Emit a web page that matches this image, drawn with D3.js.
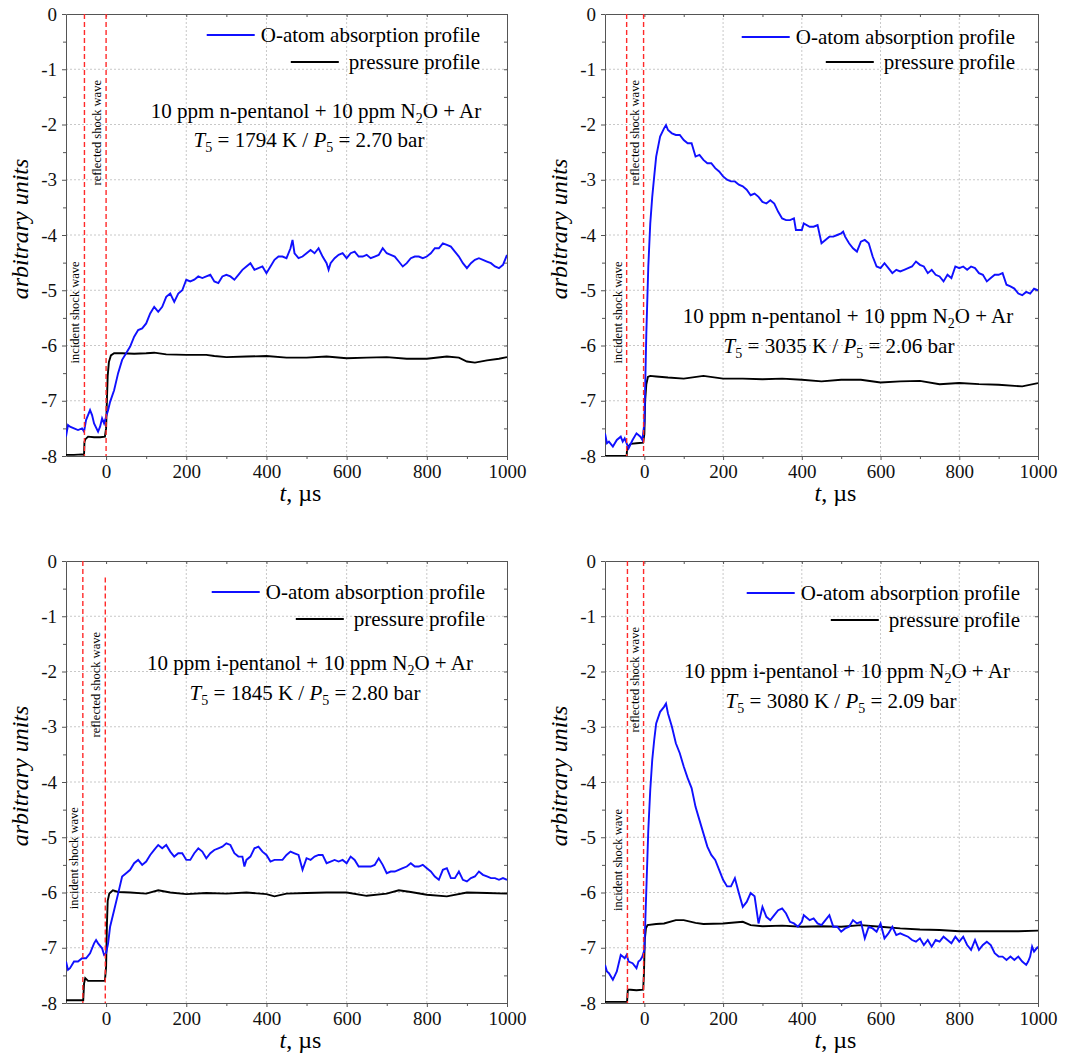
<!DOCTYPE html>
<html>
<head>
<meta charset="utf-8">
<script src="https://cdn.jsdelivr.net/npm/d3@7"></script>
<style>
  body { margin: 0; background: #fff; }
  .axis path, .axis line { stroke: #555; }
  .grid line { stroke: #c8c8c8; stroke-dasharray: 2,2; }
</style>
</head>
<body>
<div id="chart"></div>
<script>
// ---- data (t in µs, arbitrary units) ----
var xTicks = [0, 200, 400, 600, 800, 1000];
var xMinor = [-100, 100, 300, 500, 700, 900];
var yTicks = [0, -1, -2, -3, -4, -5, -6, -7, -8];
var yMinor = [-0.5, -1.5, -2.5, -3.5, -4.5, -5.5, -6.5, -7.5];

var legendLabels = ['O-atom absorption profile', 'pressure profile'];
var mixtures = ['10 ppm n-pentanol + 10 ppm N', '10 ppm n-pentanol + 10 ppm N',
                '10 ppm i-pentanol + 10 ppm N', '10 ppm i-pentanol + 10 ppm N'];
var temps = ['1794', '3035', '1845', '3080'];
var pressures = ['2.70', '2.06', '2.80', '2.09'];

// shock arrival times [incident, reflected]
var shocks1 = [-54, 0];
var shocks2 = [-45, -2];
var shocks3 = [-58, -2];
var shocks4 = [-43, -2];

var oatom1 = [[-100,-7.65],[-95,-7.44],[-90,-7.47],[-80,-7.50],[-70,-7.53],[-60,-7.50],[-55,-7.56],[-50,-7.35],[-40,-7.17],[-35,-7.26],[-30,-7.41],[-20,-7.56],[-15,-7.47],[-10,-7.32],[-5,-7.41],[0,-7.29],[5,-7.17],[10,-7.02],[20,-6.81],[30,-6.50],[40,-6.26],[50,-6.14],[60,-6.02],[70,-5.84],[80,-5.72],[90,-5.69],[100,-5.60],[110,-5.42],[120,-5.30],[130,-5.39],[140,-5.30],[150,-5.12],[160,-5.06],[170,-5.21],[180,-5.06],[190,-5.00],[200,-4.81],[210,-4.84],[220,-4.81],[230,-4.75],[240,-4.78],[250,-4.75],[260,-4.72],[270,-4.84],[280,-4.87],[290,-4.75],[300,-4.72],[310,-4.75],[320,-4.81],[330,-4.72],[340,-4.63],[350,-4.57],[360,-4.51],[370,-4.63],[380,-4.60],[390,-4.57],[400,-4.69],[410,-4.57],[420,-4.45],[430,-4.39],[440,-4.39],[450,-4.42],[460,-4.24],[465,-4.09],[470,-4.33],[480,-4.42],[490,-4.39],[500,-4.33],[510,-4.27],[520,-4.33],[530,-4.24],[540,-4.39],[550,-4.51],[555,-4.63],[560,-4.51],[570,-4.42],[580,-4.36],[590,-4.33],[600,-4.42],[610,-4.33],[620,-4.30],[630,-4.39],[640,-4.39],[650,-4.36],[660,-4.42],[670,-4.39],[680,-4.36],[690,-4.24],[700,-4.33],[710,-4.36],[720,-4.39],[730,-4.48],[740,-4.57],[750,-4.51],[760,-4.42],[770,-4.39],[780,-4.39],[790,-4.42],[800,-4.39],[810,-4.33],[820,-4.24],[830,-4.24],[840,-4.15],[850,-4.18],[860,-4.21],[870,-4.30],[880,-4.39],[890,-4.51],[900,-4.60],[910,-4.51],[920,-4.45],[930,-4.42],[940,-4.45],[950,-4.48],[960,-4.51],[970,-4.57],[980,-4.60],[990,-4.54],[1000,-4.36]];

var pres1 = [[-100,-7.98],[-80,-7.98],[-60,-7.97],[-55,-7.98],[-54,-7.75],[-52,-7.70],[-45,-7.65],[-30,-7.66],[-15,-7.66],[-3,-7.65],[0,-7.50],[2,-7.00],[4,-6.55],[7,-6.30],[12,-6.18],[20,-6.14],[40,-6.14],[70,-6.15],[100,-6.14],[120,-6.13],[150,-6.16],[200,-6.17],[250,-6.17],[270,-6.19],[300,-6.21],[350,-6.20],[400,-6.19],[450,-6.22],[500,-6.22],[550,-6.20],[600,-6.23],[650,-6.22],[700,-6.21],[750,-6.24],[800,-6.24],[850,-6.20],[880,-6.22],[900,-6.29],[920,-6.31],[950,-6.27],[980,-6.24],[1000,-6.21]];

var oatom2 = [[-100,-7.59],[-95,-7.77],[-90,-7.74],[-80,-7.83],[-70,-7.71],[-60,-7.65],[-55,-7.74],[-50,-7.68],[-45,-7.77],[-40,-7.86],[-30,-7.71],[-20,-7.59],[-10,-7.65],[-5,-7.71],[0,-7.41],[5,-5.78],[10,-4.57],[15,-3.79],[20,-3.31],[25,-2.94],[30,-2.58],[40,-2.22],[50,-2.07],[55,-2.01],[60,-2.10],[70,-2.16],[80,-2.19],[90,-2.19],[100,-2.28],[110,-2.34],[120,-2.34],[130,-2.58],[140,-2.55],[150,-2.64],[160,-2.70],[170,-2.70],[180,-2.79],[190,-2.85],[200,-2.94],[210,-3.00],[220,-3.03],[230,-3.03],[240,-3.09],[250,-3.12],[260,-3.18],[270,-3.28],[280,-3.25],[290,-3.31],[300,-3.40],[310,-3.43],[320,-3.37],[330,-3.43],[340,-3.58],[350,-3.70],[360,-3.73],[370,-3.73],[380,-3.70],[385,-3.91],[400,-3.91],[405,-3.79],[420,-3.85],[430,-3.85],[440,-3.82],[450,-4.15],[460,-4.09],[470,-4.03],[480,-4.03],[490,-4.00],[500,-3.97],[505,-3.94],[510,-4.03],[520,-4.15],[530,-4.24],[540,-4.30],[550,-4.12],[560,-4.09],[570,-4.15],[580,-4.39],[590,-4.57],[600,-4.60],[610,-4.51],[620,-4.60],[630,-4.69],[640,-4.63],[650,-4.66],[660,-4.63],[670,-4.60],[680,-4.57],[690,-4.48],[700,-4.54],[710,-4.57],[720,-4.69],[730,-4.63],[740,-4.72],[750,-4.75],[760,-4.84],[770,-4.72],[780,-4.78],[790,-4.57],[800,-4.60],[810,-4.57],[820,-4.63],[830,-4.57],[840,-4.60],[850,-4.69],[860,-4.72],[870,-4.84],[880,-4.78],[890,-4.72],[900,-4.72],[910,-4.69],[920,-4.90],[930,-4.93],[940,-4.97],[950,-5.06],[960,-5.09],[970,-5.03],[980,-5.06],[990,-4.97],[1000,-5.00]];

var pres2 = [[-100,-8.00],[-45,-8.00],[-44,-7.88],[-40,-7.82],[-35,-7.78],[-20,-7.77],[-3,-7.76],[0,-7.60],[2,-7.00],[5,-6.70],[9,-6.57],[15,-6.55],[30,-6.56],[60,-6.58],[100,-6.60],[150,-6.55],[200,-6.60],[250,-6.60],[300,-6.61],[350,-6.60],[400,-6.62],[450,-6.65],[500,-6.62],[550,-6.62],[600,-6.67],[650,-6.65],[700,-6.64],[750,-6.70],[800,-6.68],[850,-6.70],[900,-6.71],[960,-6.74],[1000,-6.68]];

var oatom3 = [[-100,-7.25],[-95,-7.40],[-90,-7.37],[-80,-7.25],[-70,-7.25],[-60,-7.19],[-50,-7.19],[-40,-7.10],[-30,-6.92],[-25,-6.86],[-20,-6.92],[-10,-7.01],[-5,-7.13],[0,-7.10],[5,-6.92],[10,-6.62],[20,-6.32],[30,-6.02],[40,-5.71],[50,-5.65],[60,-5.59],[70,-5.47],[80,-5.41],[90,-5.50],[100,-5.44],[110,-5.32],[120,-5.23],[130,-5.14],[140,-5.20],[150,-5.14],[160,-5.26],[170,-5.35],[180,-5.29],[190,-5.29],[200,-5.41],[210,-5.41],[220,-5.29],[230,-5.20],[240,-5.26],[250,-5.38],[260,-5.29],[270,-5.23],[280,-5.20],[290,-5.17],[300,-5.11],[310,-5.14],[320,-5.29],[330,-5.35],[340,-5.35],[345,-5.53],[350,-5.41],[360,-5.35],[370,-5.20],[380,-5.17],[390,-5.26],[400,-5.32],[410,-5.44],[420,-5.41],[430,-5.41],[440,-5.41],[450,-5.32],[460,-5.26],[470,-5.29],[480,-5.32],[490,-5.59],[500,-5.38],[510,-5.41],[520,-5.35],[530,-5.32],[540,-5.32],[550,-5.47],[560,-5.44],[570,-5.41],[580,-5.44],[590,-5.41],[600,-5.47],[610,-5.35],[620,-5.41],[630,-5.53],[640,-5.53],[650,-5.53],[660,-5.53],[670,-5.50],[680,-5.38],[690,-5.50],[700,-5.65],[710,-5.62],[720,-5.62],[730,-5.59],[740,-5.56],[750,-5.53],[760,-5.47],[770,-5.53],[780,-5.53],[790,-5.50],[800,-5.56],[810,-5.62],[820,-5.71],[830,-5.77],[840,-5.59],[850,-5.56],[860,-5.74],[870,-5.74],[880,-5.62],[890,-5.77],[900,-5.80],[910,-5.74],[920,-5.71],[930,-5.62],[940,-5.68],[950,-5.71],[960,-5.74],[970,-5.74],[980,-5.77],[990,-5.74],[1000,-5.77]];

var pres3 = [[-100,-7.95],[-57,-7.95],[-55,-7.65],[-52,-7.55],[-45,-7.60],[-20,-7.60],[-3,-7.60],[0,-7.35],[2,-6.60],[4,-6.15],[8,-6.02],[17,-5.96],[30,-5.99],[60,-6.00],[100,-6.02],[130,-5.96],[160,-6.00],[200,-6.03],[250,-6.01],[300,-6.02],[350,-6.00],[400,-6.03],[420,-6.07],[450,-6.02],[500,-6.01],[550,-6.00],[600,-6.00],[650,-6.06],[700,-6.02],[730,-5.96],[760,-5.99],[800,-6.04],[850,-6.07],[900,-6.00],[950,-6.01],[1000,-6.02]];

var oatom4 = [[-100,-7.31],[-95,-7.43],[-90,-7.46],[-80,-7.58],[-70,-7.43],[-60,-7.13],[-55,-7.16],[-50,-7.19],[-45,-7.13],[-40,-7.25],[-30,-7.28],[-20,-7.37],[-15,-7.25],[-10,-7.22],[-5,-7.16],[0,-7.04],[5,-5.95],[10,-4.87],[15,-4.14],[20,-3.60],[25,-3.24],[30,-2.94],[40,-2.73],[50,-2.64],[55,-2.58],[60,-2.76],[70,-3.00],[80,-3.30],[90,-3.48],[100,-3.72],[110,-3.93],[120,-4.11],[130,-4.45],[140,-4.69],[150,-4.93],[160,-5.17],[170,-5.32],[180,-5.41],[190,-5.59],[200,-5.77],[210,-5.89],[220,-5.89],[230,-5.74],[240,-6.01],[250,-6.26],[260,-6.17],[270,-6.01],[280,-6.07],[290,-6.56],[300,-6.26],[310,-6.44],[320,-6.50],[330,-6.41],[340,-6.32],[350,-6.29],[360,-6.38],[370,-6.53],[380,-6.56],[390,-6.62],[400,-6.53],[405,-6.41],[420,-6.50],[430,-6.47],[440,-6.56],[450,-6.59],[460,-6.50],[470,-6.41],[480,-6.62],[490,-6.62],[500,-6.71],[510,-6.65],[520,-6.62],[530,-6.50],[540,-6.56],[550,-6.53],[560,-6.83],[570,-6.62],[580,-6.65],[590,-6.71],[600,-6.56],[610,-6.83],[620,-6.74],[630,-6.62],[640,-6.77],[650,-6.74],[660,-6.77],[670,-6.80],[680,-6.86],[690,-6.89],[700,-6.83],[710,-6.95],[720,-6.86],[730,-6.98],[740,-6.86],[750,-6.89],[760,-6.80],[770,-6.86],[780,-6.92],[790,-6.80],[800,-6.89],[810,-6.80],[820,-6.95],[830,-7.04],[840,-6.86],[850,-7.04],[860,-6.95],[870,-6.89],[880,-6.95],[890,-7.10],[900,-7.16],[910,-7.16],[920,-7.22],[930,-7.16],[940,-7.22],[950,-7.16],[960,-7.25],[970,-7.31],[975,-7.25],[980,-7.16],[985,-6.98],[990,-7.07],[1000,-6.98]];

var pres4 = [[-100,-7.98],[-44,-7.98],[-42,-7.76],[-35,-7.76],[-20,-7.77],[-3,-7.76],[-1,-7.46],[1,-6.86],[4,-6.65],[8,-6.59],[30,-6.57],[50,-6.56],[80,-6.50],[100,-6.50],[130,-6.55],[150,-6.57],[200,-6.56],[250,-6.53],[270,-6.59],[300,-6.61],[350,-6.60],[400,-6.62],[450,-6.61],[500,-6.62],[550,-6.59],[600,-6.62],[650,-6.65],[700,-6.67],[750,-6.68],[800,-6.70],[850,-6.70],[900,-6.70],[950,-6.70],[1000,-6.69]];

// ---- layout ----
var serif = "'Liberation Serif', 'Times New Roman', serif";

var panels = [
  { left: 66, right: 507, top: 14, bottom: 456, oatom: oatom1, pres: pres1, shocks: shocks1,
    legendX: 480, legendY: [35, 62], noteX: [316, 309], noteY: [118, 147], labelY: [-5.4, -2.15], reflFrom: 0 },
  { left: 605, right: 1038, top: 14, bottom: 456, oatom: oatom2, pres: pres2, shocks: shocks2,
    legendX: 1015, legendY: [37, 62], noteX: [848, 839], noteY: [323, 353], labelY: [-5.4, -2.15], reflFrom: 0 },
  { left: 66, right: 507, top: 561, bottom: 1003, oatom: oatom3, pres: pres3, shocks: shocks3,
    legendX: 485, legendY: [592, 619], noteX: [310, 305], noteY: [670, 700], labelY: [-5.38, -2.24], reflFrom: -0.3 },
  { left: 605, right: 1038, top: 561, bottom: 1003, oatom: oatom4, pres: pres4, shocks: shocks4,
    legendX: 1020, legendY: [593, 620], noteX: [847, 841], noteY: [678, 708], labelY: [-5.41, -2.15], reflFrom: 0 }
];

var blue = '#1010ff';

var svg = d3.select('#chart')
  .append('svg')
  .attr('width', 1074)
  .attr('height', 1059)
  .style('font-family', serif);

panels.forEach(drawPanel);

function drawPanel(p, i) {
  var x = d3.scaleLinear().domain([-100, 1000]).range([p.left, p.right]);
  var y = d3.scaleLinear().domain([-8, 0]).range([p.bottom, p.top]);
  var g = svg.append('g');

  g.append('clipPath').attr('id', 'clip' + i)
    .append('rect')
    .attr('x', p.left).attr('y', p.top)
    .attr('width', p.right - p.left).attr('height', p.bottom - p.top);

  // gridlines
  var grid = g.append('g').attr('class', 'grid');
  grid.selectAll('.gx')
    .data(xTicks.filter(function(d) { return d > 0 && d < 1000; }))
    .enter().append('line')
    .attr('x1', function(d) { return x(d); }).attr('x2', function(d) { return x(d); })
    .attr('y1', p.top).attr('y2', p.bottom);
  grid.selectAll('.gy')
    .data(yTicks.filter(function(d) { return d < 0 && d > -8; }))
    .enter().append('line')
    .attr('y1', function(d) { return y(d); }).attr('y2', function(d) { return y(d); })
    .attr('x1', p.left).attr('x2', p.right);

  // axes
  var fmt = function(d) { return String(d); };
  g.append('g').attr('class', 'axis')
    .attr('transform', 'translate(' + p.left + ',0)')
    .call(d3.axisLeft(y).tickValues(yTicks).tickSize(4).tickSizeOuter(0).tickPadding(5).tickFormat(fmt))
    .selectAll('text')
    .style('font-family', serif).style('font-size', '19px').style('fill', '#111');
  g.append('g').attr('class', 'axis')
    .attr('transform', 'translate(' + p.left + ',0)')
    .call(d3.axisLeft(y).tickValues(yMinor).tickSize(3).tickFormat(''))
    .select('.domain').remove();
  g.append('g').attr('class', 'axis')
    .attr('transform', 'translate(0,' + p.bottom + ')')
    .call(d3.axisBottom(x).tickValues(xTicks).tickSize(4).tickSizeOuter(0).tickPadding(5).tickFormat(fmt))
    .selectAll('text')
    .style('font-family', serif).style('font-size', '19px').style('fill', '#111');
  g.append('g').attr('class', 'axis')
    .attr('transform', 'translate(0,' + p.bottom + ')')
    .call(d3.axisBottom(x).tickValues(xMinor.slice(1)).tickSize(3).tickFormat(''))
    .select('.domain').remove();
  g.append('g').attr('class', 'axis')
    .attr('transform', 'translate(' + p.right + ',0)')
    .call(d3.axisRight(y).tickValues(yTicks.concat(yMinor)).tickSize(-3).tickSizeOuter(0).tickFormat(''));
  g.append('g').attr('class', 'axis')
    .attr('transform', 'translate(0,' + p.top + ')')
    .call(d3.axisTop(x).tickValues(xTicks.concat(xMinor.slice(1))).tickSize(-3).tickSizeOuter(0).tickFormat(''));

  // curves
  var line = d3.line()
    .x(function(d) { return x(d[0]); })
    .y(function(d) { return y(d[1]); });

  var plot = g.append('g').attr('clip-path', 'url(#clip' + i + ')');
  plot.append('path')
    .datum(p.pres)
    .attr('fill', 'none')
    .attr('stroke', '#000')
    .attr('stroke-width', 1.9)
    .attr('d', line);
  plot.append('path')
    .datum(p.oatom)
    .attr('fill', 'none')
    .attr('stroke', blue)
    .attr('stroke-width', 1.9)
    .attr('d', line);

  // shock markers
  var froms = [0, p.reflFrom];
  g.selectAll('.shock')
    .data(p.shocks)
    .enter().append('line')
    .attr('class', 'shock')
    .attr('x1', function(d) { return x(d); })
    .attr('x2', function(d) { return x(d); })
    .attr('y1', function(d, k) { return y(froms[k]); })
    .attr('y2', p.bottom)
    .attr('stroke', '#ff2a2a')
    .attr('stroke-width', 1.4)
    .attr('stroke-dasharray', '5,3');

  var shockNames = ['incident shock wave', 'reflected shock wave'];
  g.selectAll('.shocklabel')
    .data(p.shocks)
    .enter().append('text')
    .attr('transform', function(d, k) {
      return 'translate(' + (x(d) - 5) + ',' + y(p.labelY[k]) + ') rotate(-90)';
    })
    .attr('text-anchor', 'middle')
    .style('font-family', serif)
    .style('font-size', '12.5px')
    .text(function(d, k) { return shockNames[k]; });

  // legend
  var colors = [blue, '#000'];
  var gaps = [6, 10];
  legendLabels.forEach(function(lab, k) {
    var t = g.append('text')
      .attr('x', p.legendX)
      .attr('y', p.legendY[k] + 7)
      .attr('text-anchor', 'end')
      .style('font-family', serif)
      .style('font-size', '21px')
      .text(lab);
    var w = t.node().getComputedTextLength();
    var x1 = p.legendX - w - gaps[k];
    g.append('line')
      .attr('x1', x1 - 48).attr('x2', x1)
      .attr('y1', p.legendY[k]).attr('y2', p.legendY[k])
      .attr('stroke', colors[k])
      .attr('stroke-width', 1.8);
  });

  // condition note
  var n1 = g.append('text')
    .attr('x', p.noteX[0]).attr('y', p.noteY[0])
    .attr('text-anchor', 'middle')
    .style('font-family', serif)
    .style('font-size', '21px');
  n1.append('tspan').text(mixtures[i]);
  n1.append('tspan').attr('dy', 5).style('font-size', '14px').text('2');
  n1.append('tspan').attr('dy', -5).text('O + Ar');

  var n2 = g.append('text')
    .attr('x', p.noteX[1]).attr('y', p.noteY[1])
    .attr('text-anchor', 'middle')
    .style('font-family', serif)
    .style('font-size', '21px');
  n2.append('tspan').style('font-style', 'italic').text('T');
  n2.append('tspan').attr('dy', 5).style('font-size', '14px').text('5');
  n2.append('tspan').attr('dy', -5).text(' = ' + temps[i] + ' K / ');
  n2.append('tspan').style('font-style', 'italic').text('P');
  n2.append('tspan').attr('dy', 5).style('font-size', '14px').text('5');
  n2.append('tspan').attr('dy', -5).text(' = ' + pressures[i] + ' bar');

  // axis titles
  g.append('text')
    .attr('transform', 'translate(' + (p.left - 38) + ',' + ((p.top + p.bottom) / 2 - 6) + ') rotate(-90)')
    .attr('text-anchor', 'middle')
    .style('font-family', serif)
    .style('font-size', '24px')
    .style('font-style', 'italic')
    .text('arbitrary units');

  var xl = g.append('text')
    .attr('x', (p.left + p.right) / 2 + 14)
    .attr('y', p.bottom + 45)
    .attr('text-anchor', 'middle')
    .style('font-family', serif)
    .style('font-size', '24px');
  xl.append('tspan').style('font-style', 'italic').text('t');
  xl.append('tspan').text(', µs');
}
</script>
</body>
</html>
